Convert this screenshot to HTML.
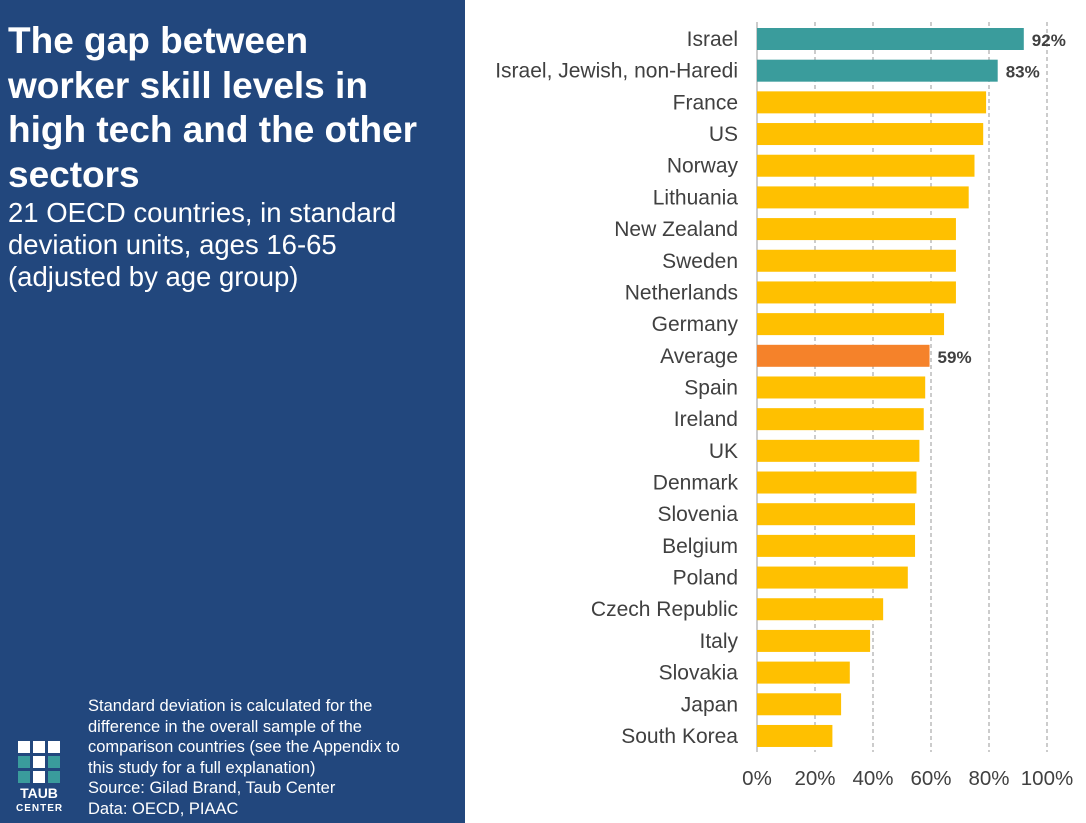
<!DOCTYPE html>
<html><head><meta charset="utf-8"><style>
body{margin:0;width:1086px;height:823px;overflow:hidden;background:#fff;font-family:"Liberation Sans",Arial,sans-serif;position:relative}
#panel{position:absolute;left:0;top:0;width:465px;height:823px;background:#22477d;color:#fff}
#title{position:absolute;left:8px;top:19px;font-size:37px;font-weight:bold;line-height:44.5px;margin:0;white-space:nowrap}
#sub{position:absolute;left:8px;top:197px;font-size:27.5px;line-height:32px;white-space:nowrap}
#note{position:absolute;left:88px;top:696px;font-size:16.5px;line-height:20.5px;white-space:nowrap}
.sq{position:absolute;width:12px;height:12px}
#logo-text{position:absolute;left:16px;top:787px;font-weight:bold;font-size:14px;line-height:13px;text-align:center;width:46px}
</style></head><body>
<div id="panel">
<h1 id="title">The gap between<br>worker skill levels in<br>high tech and the other<br>sectors</h1>
<div id="sub">21 OECD countries, in standard<br>deviation units, ages 16-65<br>(adjusted by age group)</div>
<div id="note">Standard deviation is calculated for the<br>difference in the overall sample of the<br>comparison countries (see the Appendix to<br>this study for a full explanation)<br>Source: Gilad Brand, Taub Center<br>Data: OECD, PIAAC</div>
<div>
<div class="sq" style="left:18px;top:741px;background:#fff"></div><div class="sq" style="left:33px;top:741px;background:#fff"></div><div class="sq" style="left:48px;top:741px;background:#fff"></div>
<div class="sq" style="left:18px;top:756px;background:#3a9c9c"></div><div class="sq" style="left:33px;top:756px;background:#fff"></div><div class="sq" style="left:48px;top:756px;background:#3a9c9c"></div>
<div class="sq" style="left:18px;top:771px;background:#3a9c9c"></div><div class="sq" style="left:33px;top:771px;background:#fff"></div><div class="sq" style="left:48px;top:771px;background:#3a9c9c"></div>
<div id="logo-text">TAUB<br><span style="font-size:10px;letter-spacing:1px">CENTER</span></div>
</div>
</div>
<svg id="chart" width="1086" height="823" style="position:absolute;left:0;top:0"></svg>
<script>
const categories=["Israel","Israel, Jewish, non-Haredi","France","US","Norway","Lithuania","New Zealand","Sweden","Netherlands","Germany","Average","Spain","Ireland","UK","Denmark","Slovenia","Belgium","Poland","Czech Republic","Italy","Slovakia","Japan","South Korea"];
const values=[92,83,79,78,75,73,68.6,68.6,68.6,64.5,59.5,58,57.5,56,55,54.5,54.5,52,43.5,39,32,29,26];
const labels=["92%","83%","","","","","","","","","59%","","","","","","","","","","","",""];
const ticks=[0,20,40,60,80,100];
const svg=document.getElementById('chart');const NS='http://www.w3.org/2000/svg';
const x=v=>757+v*2.9;
const y=i=>39+i*31.68;
function mk(t,a){const e=document.createElementNS(NS,t);for(const k in a)e.setAttribute(k,a[k]);svg.appendChild(e);return e;}
ticks.forEach(t=>{if(t>0){const l=mk('line',{x1:x(t),x2:x(t),y1:22,y2:752,stroke:'#999','stroke-dasharray':'4,3','stroke-width':1});

}
const tx=mk('text',{x:x(t),y:785,'text-anchor':'middle','font-size':20.5,fill:'#404040','font-family':'Liberation Sans, sans-serif'});tx.textContent=t+'%';

});
const ax=mk('line',{x1:757,x2:757,y1:22,y2:752,stroke:'#999','stroke-width':1});


categories.forEach((c,i)=>{const col=i<2?'#3a9c9c':(c==='Average'?'#f5822a':'#ffc000');
const r=mk('rect',{x:757,y:y(i)-11,width:x(values[i])-757,height:22,fill:col});


const t=mk('text',{x:738,y:y(i)+7,'text-anchor':'end','font-size':21,fill:'#404040','font-family':'Liberation Sans, sans-serif'});t.textContent=c;


if(labels[i]){const v=mk('text',{x:x(values[i])+8,y:y(i)+7,'font-size':17,'font-weight':'bold',fill:'#404040','font-family':'Liberation Sans, sans-serif'});v.textContent=labels[i];

}});
</script>
</body></html>
